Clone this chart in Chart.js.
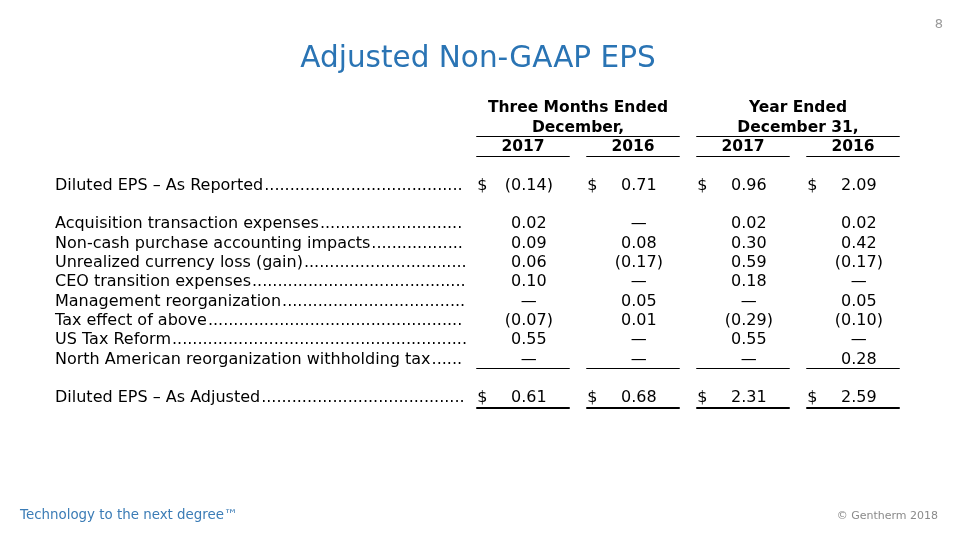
<!DOCTYPE html>
<html><head><meta charset="utf-8">
<script src="https://cdn.jsdelivr.net/npm/chart.js@4.4.1/dist/chart.umd.min.js"></script>
<style>
html,body{margin:0;padding:0;background:#fff;}
#wrap{position:relative;width:960px;height:540px;overflow:hidden;font-family:"DejaVu Sans",Verdana,sans-serif;}
#c{position:absolute;left:0;top:0;}
.title{position:absolute;left:0;width:956px;top:40px;line-height:34px;text-align:center;font-size:29.5px;color:#2a74b4;}
.page{position:absolute;right:17px;top:16px;line-height:16px;font-size:13px;color:#9a9a9a;}
.tag{position:absolute;left:20px;top:507px;line-height:16px;font-size:13.4px;color:#3b7cb6;}
.copy{position:absolute;right:22px;top:508px;line-height:16px;font-size:11px;color:#8a8a8a;}
</style></head>
<body>
<div id="wrap">
<canvas id="c" width="960" height="540"></canvas>
<div class="title">Adjusted Non-GAAP EPS</div>
<div class="page">8</div>
<div class="tag">Technology to the next degree™</div>
<div class="copy">© Gentherm 2018</div>
</div>
<script>
// ---- data ----
const groupHeaders = [["Three Months Ended", "December,"], ["Year Ended", "December 31,"]];
const columnYears = ["2017", "2016", "2017", "2016"];
const rowLabels = [
  "Diluted EPS – As Reported",
  "Acquisition transaction expenses",
  "Non-cash purchase accounting impacts",
  "Unrealized currency loss (gain)",
  "CEO transition expenses",
  "Management reorganization",
  "Tax effect of above",
  "US Tax Reform",
  "North American reorganization withholding tax",
  "Diluted EPS – As Adjusted"
];
const q4_2017 = [-0.14, 0.02, 0.09, 0.06, 0.10, null, -0.07, 0.55, null, 0.61];
const q4_2016 = [0.71, null, 0.08, -0.17, null, 0.05, 0.01, null, null, 0.68];
const fy_2017 = [0.96, 0.02, 0.30, 0.59, 0.18, null, -0.29, 0.55, null, 2.31];
const fy_2016 = [2.09, 0.02, 0.42, -0.17, null, 0.05, -0.10, null, 0.28, 2.59];
const columns = [q4_2017, q4_2016, fy_2017, fy_2016];
const dollarRows = [0, 9];

// ---- row axis: header rows + spacer rows + data rows ----
const yRows = ["hdr1", "hdr2", "years", "gap1", rowLabels[0], "gap2"]
  .concat(rowLabels.slice(1, 9), ["gap3", rowLabels[9]]);
function rowIndex(i){ return i === 0 ? 4 : (i < 9 ? 5 + i : 15); }

const FONT = '"DejaVu Sans", Verdana, sans-serif';

const tablePlugin = {
  id: 'epsTable',
  afterDraw(chart){
    const ctx = chart.ctx, xs = chart.scales.x, ys = chart.scales.y;
    const colW = (xs.right - xs.left) / columnYears.length;
    const half = colW * 0.425;
    const rowH = (ys.bottom - ys.top) / yRows.length;
    ctx.save();
    ctx.fillStyle = '#000';
    ctx.strokeStyle = '#000';
    ctx.textBaseline = 'middle';

    function hline(x1, x2, yy, w){
      ctx.lineWidth = w;
      const yp = w % 2 ? Math.round(yy) + 0.5 : Math.round(yy);
      ctx.beginPath(); ctx.moveTo(x1, yp); ctx.lineTo(x2, yp); ctx.stroke();
    }

    // group headers
    ctx.font = 'bold 15.5px ' + FONT;
    ctx.textAlign = 'center';
    groupHeaders.forEach((g, gi) => {
      const c1 = xs.getPixelForValue(gi * 2), c2 = xs.getPixelForValue(gi * 2 + 1);
      const mid = (c1 + c2) / 2;
      ctx.fillText(g[0], mid, ys.getPixelForValue(0));
      ctx.fillText(g[1], mid, ys.getPixelForValue(1));
      hline(c1 - half, c2 + half, ys.getPixelForValue(1) + rowH / 2 - 1, 1);
    });
    // year headers
    columnYears.forEach((yr, ci) => {
      const cx = xs.getPixelForValue(ci);
      ctx.fillText(yr, cx, ys.getPixelForValue(2));
      hline(cx - half, cx + half, ys.getPixelForValue(2) + rowH / 2 - 1, 1);
    });

    // row labels with dot leaders
    ctx.font = '16px ' + FONT;
    ctx.textAlign = 'left';
    const labelX = 55, leaderEnd = xs.left - 1;
    const dotW = ctx.measureText('.').width;
    rowLabels.forEach((lab, i) => {
      const yy = ys.getPixelForValue(rowIndex(i));
      ctx.fillText(lab, labelX, yy);
      const start = labelX + ctx.measureText(lab).width + 1;
      const n = Math.max(0, Math.floor((leaderEnd - start) / dotW));
      ctx.fillText('.'.repeat(n), start, yy);
    });

    // values
    const numW = ctx.measureText('0.00').width;
    columns.forEach((vals, ci) => {
      const cx = xs.getPixelForValue(ci);
      const R = cx + colW * 0.215;
      vals.forEach((v, i) => {
        const yy = ys.getPixelForValue(rowIndex(i));
        if (dollarRows.includes(i)) {
          ctx.textAlign = 'left';
          ctx.fillText('$', cx - half + 1, yy);
        }
        if (v === null) {
          ctx.textAlign = 'center';
          ctx.fillText('—', R - numW / 2, yy);
        } else if (v < 0) {
          ctx.textAlign = 'right';
          ctx.fillText('(' + Math.abs(v).toFixed(2), R, yy);
          ctx.textAlign = 'left';
          ctx.fillText(')', R, yy);
        } else {
          ctx.textAlign = 'right';
          ctx.fillText(v.toFixed(2), R, yy);
        }
      });
      // rule above the total and heavier rule below it
      hline(cx - half, cx + half, ys.getPixelForValue(rowIndex(8)) + rowH / 2 - 1, 1);
      hline(cx - half, cx + half, ys.getPixelForValue(rowIndex(9)) + rowH / 2, 2);
    });
    ctx.restore();
  }
};

new Chart(document.getElementById('c'), {
  type: 'line',
  data: { labels: columnYears.map((y, i) => 'c' + i), datasets: [{ data: [], showLine: false }] },
  options: {
    responsive: false,
    animation: false,
    events: [],
    layout: { padding: { left: 468, right: 52, top: 98.5, bottom: 132 } },
    plugins: { legend: { display: false }, tooltip: { enabled: false }, title: { display: false } },
    scales: {
      x: { type: 'category', labels: columnYears.map((y, i) => 'c' + i), offset: true, display: false },
      y: { type: 'category', labels: yRows, offset: true, display: false }
    }
  },
  plugins: [tablePlugin]
});
</script>
</body></html>
